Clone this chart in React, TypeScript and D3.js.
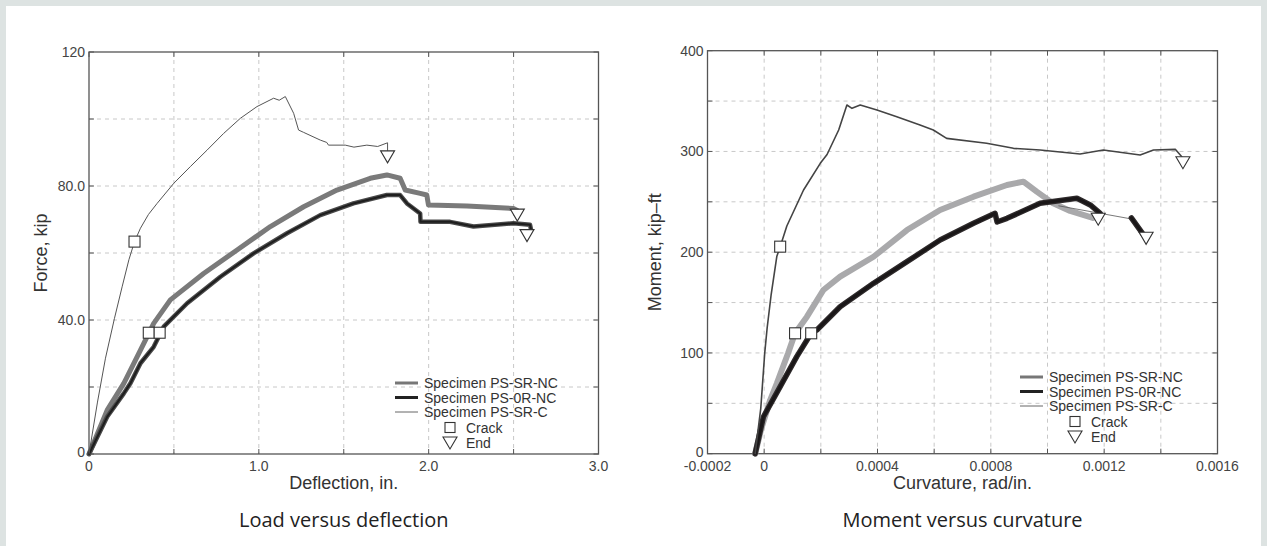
import React from "react";
import * as d3 from "d3";

type Pt = [number, number];

// ---- Load versus deflection (x: in., y: kip) ----
const loadXTicks = [0, 0.5, 1, 1.5, 2, 2.5, 3];
const loadXLabelAt = [0, 1, 2, 3];
const loadXLabels = ["0", "1.0", "2.0", "3.0"];
const loadYTicks = [0, 20, 40, 60, 80, 100, 120];
const loadYLabelAt = [0, 40, 80, 120];
const loadYLabels = ["0", "40.0", "80.0", "120"];

const loadSRNC: Pt[] = [
  [0, 0], [0.107, 13.1], [0.205, 21.1], [0.225, 23.1], [0.303, 31.0], [0.381, 39.0],
  [0.479, 46.0], [0.675, 53.9], [0.872, 60.9], [1.068, 67.9], [1.264, 73.8], [1.46, 78.8],
  [1.656, 82.3], [1.754, 83.3], [1.832, 82.3], [1.862, 78.8], [1.95, 77.8], [1.989, 77.3],
  [1.999, 74.3], [2.225, 74.0], [2.499, 73.3], [2.519, 72.8],
];
const load0RNC: Pt[] = [
  [0, 0], [0.107, 11.1], [0.205, 18.1], [0.244, 21.1], [0.303, 27.1], [0.381, 32.0],
  [0.44, 38.0], [0.578, 45.0], [0.774, 52.9], [0.969, 59.9], [1.166, 65.9], [1.362, 71.3],
  [1.557, 74.8], [1.754, 77.3], [1.832, 77.3], [1.872, 74.8], [1.95, 71.8], [1.952, 69.3],
  [2.126, 69.3], [2.264, 67.9], [2.499, 68.9], [2.597, 68.4], [2.603, 66.9],
];
const loadSRC: Pt[] = [
  [0, 0], [0.05, 15.5], [0.097, 28.6], [0.15, 40.5], [0.195, 49.9], [0.235, 58.0], [0.268, 63.4],
  [0.303, 67.4], [0.35, 71.5], [0.401, 74.8], [0.499, 80.8], [0.597, 85.8], [0.695, 90.7],
  [0.793, 95.7], [0.891, 100.2], [0.989, 103.7], [1.087, 106.2], [1.12, 105.6], [1.156, 106.7],
  [1.205, 101.7], [1.234, 96.7], [1.264, 96.0], [1.362, 93.7], [1.40, 93.0], [1.41, 92.2],
  [1.509, 92.2], [1.56, 91.6], [1.636, 92.2], [1.70, 91.8], [1.758, 92.9], [1.758, 90.1],
];
const loadCrack: Pt[] = [[0.268, 63.4], [0.352, 36.2], [0.416, 36.2]];
const loadEnd: Pt[] = [[1.758, 88.7], [2.522, 71.3], [2.579, 65.2]];

// ---- Moment versus curvature (x: rad/in., y: kip-ft) ----
const momXTicks = [-0.0002, 0, 0.0002, 0.0004, 0.0006, 0.0008, 0.001, 0.0012, 0.0014, 0.0016];
const momXLabelAt = [-0.0002, 0, 0.0004, 0.0008, 0.0012, 0.0016];
const momXLabels = ["-0.0002", "0", "0.0004", "0.0008", "0.0012", "0.0016"];
const momYTicks = [0, 50, 100, 150, 200, 250, 300, 350, 400];
const momYLabelAt = [0, 100, 200, 300, 400];
const momYLabels = ["0", "100", "200", "300", "400"];

const momSRNC: Pt[] = [
  [-0.0000318, 0], [-0.00001, 25], [0.0000212, 53.3], [0.0000448, 69.9], [0.0000847, 99.9],
  [0.000109, 119.5], [0.000151, 136], [0.000209, 162.5], [0.000268, 175.7], [0.000386, 195.5],
  [0.000504, 222], [0.000621, 241.9], [0.000739, 255.1], [0.000857, 266.7], [0.000915, 270],
  [0.000962, 260.1], [0.00102, 248.5], [0.00108, 241], [0.00116, 234],
];
const mom0RNC: Pt[] = [
  [-0.0000318, 0], [-0.0000025, 36.7], [0.0000565, 66.5], [0.000115, 96.3], [0.000166, 119.5],
  [0.000186, 122.8], [0.000268, 145.9], [0.000386, 169.1], [0.000504, 190.6], [0.000621, 212.1],
  [0.000739, 228.7], [0.000815, 238.6], [0.000822, 230], [0.000857, 233.6], [0.000974, 248.5],
  [0.001104, 253.5], [0.001151, 246.9], [0.001186, 238.6],
];
const mom0RNCTail: Pt[] = [[0.001296, 234], [0.001339, 217.1]];
const mom0RNCGap: Pt[] = [[0.00104, 246], [0.001296, 233]];
const momSRC: Pt[] = [
  [-0.0000318, 0], [-0.000012, 45], [0.000002, 100], [0.0000106, 125], [0.0000247, 158],
  [0.0000448, 196], [0.0000565, 205.5], [0.00008, 226], [0.000139, 261.7], [0.000198, 288.2],
  [0.000222, 297], [0.000263, 321.3], [0.000292, 346.1], [0.00031, 342.8],
  [0.000339, 346.1], [0.000398, 341.1], [0.000468, 334.5], [0.00055, 326.3], [0.000597, 321.3],
  [0.000644, 313], [0.000785, 308.1], [0.00088, 303.1], [0.000974, 301.4], [0.001115, 297.5],
  [0.001197, 301.4], [0.001327, 296.5], [0.001374, 301.4], [0.001451, 302.1], [0.001474, 294.8],
];
const momCrack: Pt[] = [[0.0000565, 205.5], [0.000109, 119.5], [0.000166, 119.5]];
const momEnd: Pt[] = [[0.001478, 288.8], [0.001179, 232.7], [0.001348, 213.8]];

const legendNames = ["Specimen PS-SR-NC", "Specimen PS-0R-NC", "Specimen PS-SR-C"];
const markerNames = ["Crack", "End"];

const FONT = "'Liberation Sans', Arial, Helvetica, sans-serif";

interface Line { data: Pt[]; stroke: string; width: number; under?: string; underWidth?: number }

interface PanelProps {
  xDomain: [number, number]; yDomain: [number, number];
  xRange: [number, number]; yRange: [number, number];
  xTicks: number[]; xLabelAt: number[]; xLabels: string[];
  yTicks: number[]; yLabelAt: number[]; yLabels: string[];
  xTitle: string; yTitle: string; yTitleX: number; caption: string;
  lines: Line[]; cracks: Pt[]; ends: Pt[];
  legend: { x: number; y: number; colors: string[]; widths: number[] };
}

const Square = ({ cx, cy, s = 11 }: { cx: number; cy: number; s?: number }) => (
  <rect x={cx - s / 2} y={cy - s / 2} width={s} height={s} fill="#fff" stroke="#333" strokeWidth={1.1} />
);
const Tri = ({ cx, cy }: { cx: number; cy: number }) => (
  <path d={`M${cx - 7},${cy - 6}L${cx + 7},${cy - 6}L${cx},${cy + 6}Z`} fill="#fff" stroke="#333" strokeWidth={1.1} />
);

const Panel = (p: PanelProps) => {
  const x = d3.scaleLinear().domain(p.xDomain).range(p.xRange);
  const y = d3.scaleLinear().domain(p.yDomain).range(p.yRange);
  const line = d3.line<Pt>().x(d => x(d[0])).y(d => y(d[1]));
  const [x0, x1] = p.xRange;
  const [yb, yt] = p.yRange;
  const cx = (x0 + x1) / 2;
  const cy = (yb + yt) / 2;
  const L = p.legend;
  return (
    <g fontFamily={FONT}>
      {p.xTicks.slice(1, -1).map(t => (
        <line key={"gx" + t} x1={x(t)} x2={x(t)} y1={yt} y2={yb} stroke="#c8c8c8" strokeDasharray="4,4" />
      ))}
      {p.yTicks.slice(1, -1).map(t => (
        <line key={"gy" + t} x1={x0} x2={x1} y1={y(t)} y2={y(t)} stroke="#c8c8c8" strokeDasharray="4,4" />
      ))}
      {p.xTicks.map(t => (
        <g key={"tx" + t} stroke="#555">
          <line x1={x(t)} x2={x(t)} y1={yb} y2={yb - 5} />
          <line x1={x(t)} x2={x(t)} y1={yt} y2={yt + 5} />
        </g>
      ))}
      {p.yTicks.map(t => (
        <g key={"ty" + t} stroke="#555">
          <line x1={x0} x2={x0 + 5} y1={y(t)} y2={y(t)} />
          <line x1={x1} x2={x1 - 5} y1={y(t)} y2={y(t)} />
        </g>
      ))}
      <rect x={x0} y={yt} width={x1 - x0} height={yb - yt} fill="none" stroke="#555" strokeWidth={1.3} />
      {p.xLabelAt.map((t, i) => (
        <text key={"lx" + t} x={x(t)} y={yb + 17} textAnchor="middle" fontSize={14} fill="#444">{p.xLabels[i]}</text>
      ))}
      {p.yLabelAt.map((t, i) => (
        <text key={"ly" + t} x={x0 - 4} y={y(t) + (t === p.yDomain[0] ? 3 : 5)} textAnchor="end" fontSize={14} fill="#444">{p.yLabels[i]}</text>
      ))}
      <text x={cx} y={yb + 35} textAnchor="middle" fontSize={18} fill="#333">{p.xTitle}</text>
      <text transform={`translate(${p.yTitleX},${cy}) rotate(-90)`} textAnchor="middle" fontSize={18} fill="#333">{p.yTitle}</text>
      <text x={cx} y={yb + 73} textAnchor="middle" fontSize={20} fill="#222" fontFamily="'Open Sans', 'Noto Sans', sans-serif">{p.caption}</text>
      {p.lines.map((l, i) => (
        <g key={"s" + i} fill="none" strokeLinejoin="round" strokeLinecap="round">
          {l.under && <path d={line(l.data) || ""} stroke={l.under} strokeWidth={l.underWidth} />}
          <path d={line(l.data) || ""} stroke={l.stroke} strokeWidth={l.width} />
        </g>
      ))}
      {p.cracks.map((d, i) => <Square key={"c" + i} cx={x(d[0])} cy={y(d[1])} />)}
      {p.ends.map((d, i) => <Tri key={"e" + i} cx={x(d[0])} cy={y(d[1])} />)}
      {legendNames.map((n, i) => (
        <g key={"lg" + i}>
          <line x1={L.x} x2={L.x + 23} y1={L.y + i * 14.5} y2={L.y + i * 14.5} stroke={L.colors[i]} strokeWidth={L.widths[i]} />
          <text x={L.x + 29} y={L.y + i * 14.5 + 5} fontSize={14} fill="#333">{n}</text>
        </g>
      ))}
      <Square cx={L.x + 55} cy={L.y + 44.5} s={10} />
      <text x={L.x + 71} y={L.y + 49.5} fontSize={14} fill="#333">{markerNames[0]}</text>
      <Tri cx={L.x + 55} cy={L.y + 60} />
      <text x={L.x + 71} y={L.y + 65} fontSize={14} fill="#333">{markerNames[1]}</text>
    </g>
  );
};

export default function App() {
  return (
    <svg width={1267} height={546} style={{ position: "absolute", left: 0, top: 0 }}>
      <rect width={1267} height={546} fill="#dde3e2" />
      <rect x={6} y={6} width={1255} height={540} fill="#fff" />
      <Panel
        xDomain={[0, 3]} yDomain={[0, 120]} xRange={[89, 598.5]} yRange={[454, 52]}
        xTicks={loadXTicks} xLabelAt={loadXLabelAt} xLabels={loadXLabels}
        yTicks={loadYTicks} yLabelAt={loadYLabelAt} yLabels={loadYLabels}
        xTitle="Deflection, in." yTitle="Force, kip" yTitleX={47} caption="Load versus deflection"
        lines={[
          { data: loadSRNC, stroke: "#7a7a7a", width: 5 },
          { data: load0RNC, stroke: "#1e1e1e", width: 2, under: "#4a4a4a", underWidth: 4.5 },
          { data: loadSRC, stroke: "#555", width: 1 },
        ]}
        cracks={loadCrack} ends={loadEnd}
        legend={{ x: 395, y: 383, colors: ["#777", "#222", "#666"], widths: [3, 3, 1] }}
      />
      <Panel
        xDomain={[-0.0002, 0.0016]} yDomain={[0, 400]} xRange={[707.5, 1217.5]} yRange={[453.7, 50.7]}
        xTicks={momXTicks} xLabelAt={momXLabelAt} xLabels={momXLabels}
        yTicks={momYTicks} yLabelAt={momYLabelAt} yLabels={momYLabels}
        xTitle="Curvature, rad/in." yTitle="Moment, kip–ft" yTitleX={661} caption="Moment versus curvature"
        lines={[
          { data: momSRNC, stroke: "#a9a9ab", width: 6 },
          { data: mom0RNCGap, stroke: "#555", width: 0.8 },
          { data: mom0RNC, stroke: "#1a1718", width: 3, under: "#2e2a2b", underWidth: 5.5 },
          { data: mom0RNCTail, stroke: "#1a1718", width: 3, under: "#2e2a2b", underWidth: 5.5 },
          { data: momSRC, stroke: "#444", width: 1.6 },
        ]}
        cracks={momCrack} ends={momEnd}
        legend={{ x: 1020, y: 377, colors: ["#777", "#222", "#666"], widths: [3, 3, 1] }}
      />
    </svg>
  );
}
